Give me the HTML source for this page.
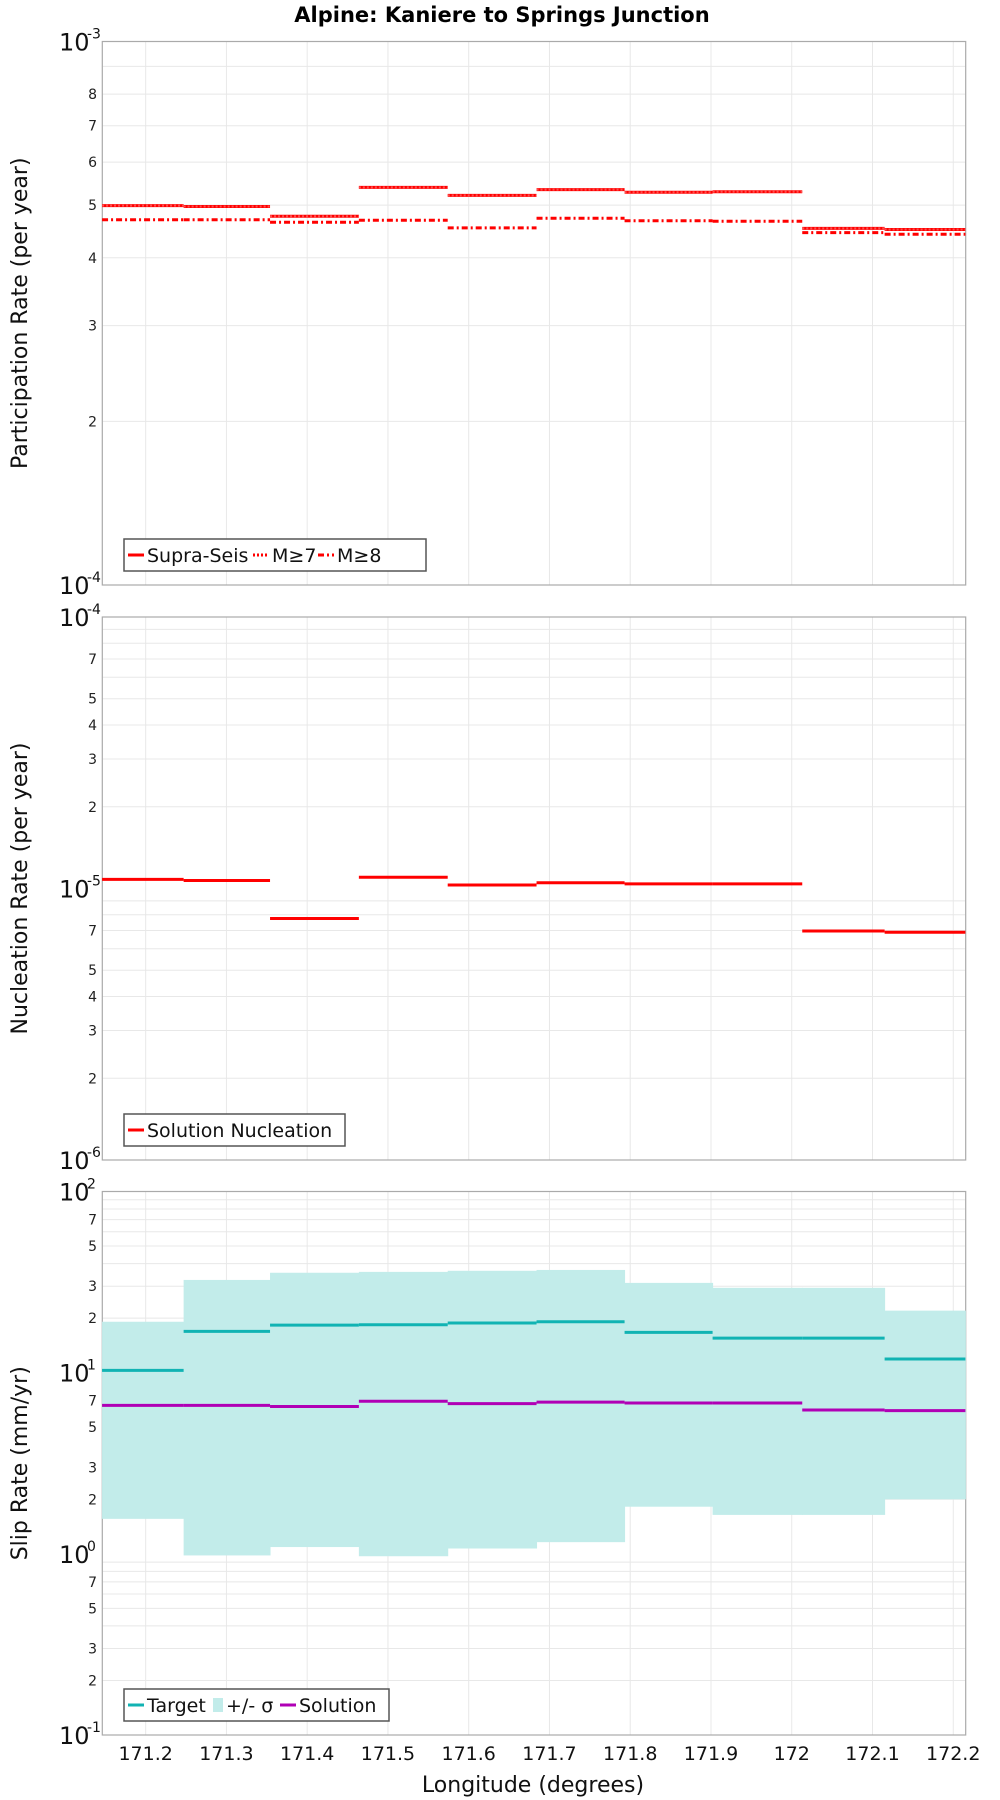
<!DOCTYPE html>
<html><head><meta charset="utf-8"><style>
html,body{margin:0;padding:0;background:#fff;}
svg{display:block;font-family:"DejaVu Sans","Liberation Sans",sans-serif;}
</style></head><body>
<svg id="chart" width="1000" height="1800" viewBox="0 0 1000 1800" xmlns="http://www.w3.org/2000/svg">
<text x="502" y="22" text-anchor="middle" font-size="21" font-weight="bold">Alpine: Kaniere to Springs Junction</text>
<g id="layer"></g>
</svg>
<script>
const segEdges = [171.146, 171.247, 171.354, 171.464, 171.574, 171.684, 171.793, 171.902, 172.013, 172.115, 172.215];
const xTicks = [171.2, 171.3, 171.4, 171.5, 171.6, 171.7, 171.8, 171.9, 172.0, 172.1, 172.2];
const xTickLabels = ["171.2","171.3","171.4","171.5","171.6","171.7","171.8","171.9","172","172.1","172.2"];
const supraSeis = [4.99e-4, 4.97e-4, 4.77e-4, 5.39e-4, 5.21e-4, 5.34e-4, 5.28e-4, 5.29e-4, 4.53e-4, 4.51e-4];
const m7 = [4.99e-4, 4.97e-4, 4.77e-4, 5.39e-4, 5.21e-4, 5.34e-4, 5.28e-4, 5.29e-4, 4.53e-4, 4.51e-4];
const m8 = [4.70e-4, 4.70e-4, 4.65e-4, 4.69e-4, 4.54e-4, 4.73e-4, 4.68e-4, 4.67e-4, 4.45e-4, 4.42e-4];
const nucleation = [1.08e-5, 1.07e-5, 7.75e-6, 1.10e-5, 1.03e-5, 1.05e-5, 1.04e-5, 1.04e-5, 6.97e-6, 6.9e-6];
const slipTarget = [10.3, 16.9, 18.3, 18.4, 18.8, 19.1, 16.7, 15.5, 15.5, 11.9];
const slipUpper = [19.1, 32.5, 35.6, 36.0, 36.5, 36.9, 31.3, 29.4, 29.4, 22.0];
const slipLower = [1.56, 0.98, 1.09, 0.97, 1.07, 1.16, 1.82, 1.64, 1.64, 2.0];
const slipSolution = [6.6, 6.6, 6.5, 6.95, 6.75, 6.88, 6.8, 6.8, 6.22, 6.17];
const topMinorLabels = [2,3,4,5,6,7,8];
const midMinorLabels = [2,3,4,5,7];
const botMinorLabels = [2,3,5,7];

const NS = "http://www.w3.org/2000/svg";
const layer = document.getElementById('layer');
const PL = 102.3, PR = 965.7;
const X0 = 171.1463, X1 = 172.2154;
function xs(v){ return PL + (v - X0) / (X1 - X0) * (PR - PL); }
function mk(tag, attrs, parent){
  const e = document.createElementNS(NS, tag);
  for (const k in attrs) e.setAttribute(k, attrs[k]);
  (parent || layer).appendChild(e);
  return e;
}
function makePanel(top, bot, eMin, eMax, minorLabels, title, name){
  const g = mk('g', {});
  
  
  const ys = v => bot - (Math.log10(v) - eMin) / (eMax - eMin) * (bot - top);
  for (let e = eMin; e < eMax; e++) {
    for (let m = 2; m <= 9; m++) {
      const v = m * Math.pow(10, e);
      const y = ys(v);
      const gl = mk('line', {x1: PL, x2: PR, y1: y, y2: y, stroke: '#e8e8e8', 'stroke-width': 1}, g);
      
      
      if (minorLabels.indexOf(m) >= 0) {
        const t = mk('text', {x: 97, y: y + 5, 'text-anchor': 'end', 'font-size': 14, fill: '#222'}, g);
        
        
        t.textContent = String(m);
      }
    }
  }
  for (let e = eMin; e <= eMax; e++) {
    const y = ys(Math.pow(10, e));
    const t = mk('text', {x: 59, y: y + 9, 'font-size': 24, fill: '#111'}, g);
    
    
    t.textContent = '10';
    const s = mk('text', {x: 87, y: y - 3, 'font-size': 14, fill: '#111'}, g);
    
    
    s.textContent = String(e);
  }
  xTicks.forEach(v => {
    const gl = mk('line', {x1: xs(v), x2: xs(v), y1: top, y2: bot, stroke: '#e8e8e8', 'stroke-width': 1}, g);
    
    
  });
  const fr = mk('rect', {x: PL, y: top, width: PR - PL, height: bot - top, fill: 'none', stroke: '#aaa', 'stroke-width': 1.2}, g);
  
  
  const tt = mk('text', {x: 0, y: 0, 'font-size': 22, 'text-anchor': 'middle', fill: '#111', transform: `translate(27,${(top + bot) / 2}) rotate(-90)`}, g);
  
  
  tt.textContent = title;
  return {g, ys};
}
function steps(p, arr, color, dash, name, width){
  arr.forEach((v, i) => {
    const a = {x1: xs(segEdges[i]), x2: xs(segEdges[i + 1]), y1: p.ys(v), y2: p.ys(v), stroke: color, 'stroke-width': width || 3};
    if (dash) a['stroke-dasharray'] = dash;
    const l = mk('line', a, p.g);
    
    
  });
}
function legend(g, x, y, w, h, items, name){
  const lg = mk('g', {}, g);
  
  
  mk('rect', {x: x, y: y, width: w, height: h, fill: '#fff', stroke: '#555', 'stroke-width': 1.5}, lg);
  let cx = x + 4;
  items.forEach(it => {
    const ent = mk('g', {}, lg);
    
    
    if (it.fill) mk('rect', {x: cx, y: y + h / 2 - 7, width: 10, height: 14, fill: it.fill}, ent);
    else {
      const a = {x1: cx, x2: cx + 16, y1: y + h / 2, y2: y + h / 2, stroke: it.color, 'stroke-width': 3};
      if (it.dash) a['stroke-dasharray'] = it.dash;
      mk('line', a, ent);
    }
    cx += it.fill ? 13 : 19;
    const t = mk('text', {x: cx, y: y + h / 2 + 7, 'font-size': 19, fill: '#111'}, ent);
    t.textContent = it.label;
    cx += it.tw;
  });
}
const p1 = makePanel(41.5, 585, -4, -3, topMinorLabels, 'Participation Rate (per year)', 'participation');
steps(p1, supraSeis, '#ff0000', null, 'supra-seis');
steps(p1, m7, '#ff5050', '2,2', 'm7', 2);
steps(p1, m8, '#ff0000', '6,3,2,3', 'm8');
legend(p1.g, 124, 539, 302, 32, [
  {color: '#f00', label: 'Supra-Seis', tw: 106},
  {color: '#f00', dash: '2,2', label: 'M≥7', tw: 46},
  {color: '#f00', dash: '6,3,2,3', label: 'M≥8', tw: 40}], 'participation-legend');
const p2 = makePanel(617, 1160, -6, -4, midMinorLabels, 'Nucleation Rate (per year)', 'nucleation');
steps(p2, nucleation, '#ff0000', null, 'nucleation');
legend(p2.g, 124, 1114, 221, 32, [{color: '#f00', label: 'Solution Nucleation', tw: 200}], 'nucleation-legend');
const p3 = makePanel(1191.5, 1735, -1, 2, botMinorLabels, 'Slip Rate (mm/yr)', 'slip');
slipUpper.forEach((v, i) => {
  const r = mk('rect', {x: xs(segEdges[i]), width: xs(segEdges[i + 1]) - xs(segEdges[i]) + 0.5, y: p3.ys(v), height: p3.ys(slipLower[i]) - p3.ys(v), fill: '#c2ecea'}, p3.g);
  
  
});
steps(p3, slipTarget, '#11b3b3', null, 'target');
steps(p3, slipSolution, '#b000b5', null, 'solution');
legend(p3.g, 124, 1689, 265, 32, [
  {color: '#11b3b3', label: 'Target', tw: 66},
  {fill: '#c2ecea', label: '+/- σ', tw: 54},
  {color: '#b000b5', label: 'Solution', tw: 80}], 'slip-legend');
xTicks.forEach((v, i) => {
  const t = mk('text', {x: xs(v), y: 1760, 'text-anchor': 'middle', 'font-size': 19, fill: '#111'});
  
  
  t.textContent = xTickLabels[i];
});
const xt = mk('text', {x: 533, y: 1792, 'text-anchor': 'middle', 'font-size': 22, fill: '#111'});


xt.textContent = 'Longitude (degrees)';
</script>
</body></html>
